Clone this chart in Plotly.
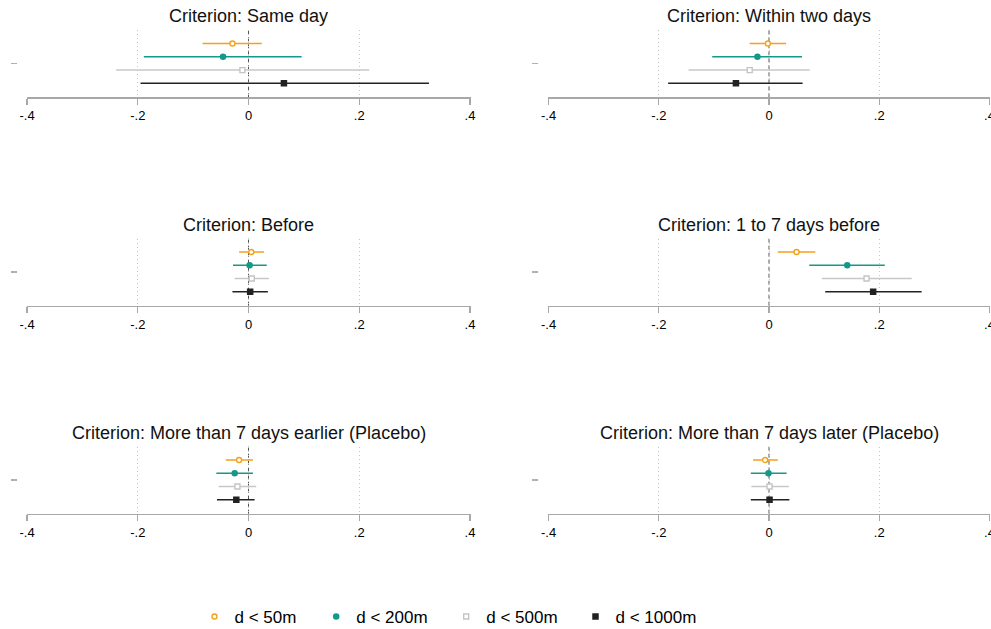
import plotly.graph_objects as go

# ---- data ----
panel_titles = [
    "Criterion: Same day",
    "Criterion: Within two days",
    "Criterion: Before",
    "Criterion: 1 to 7 days before",
    "Criterion: More than 7 days earlier (Placebo)",
    "Criterion: More than 7 days later (Placebo)",
]
series_names = ["d < 50m", "d < 200m", "d < 500m", "d < 1000m"]

est_50 = [-0.029, -0.002, 0.005, 0.050, -0.017, -0.007]
lo_50 = [-0.083, -0.035, -0.017, 0.016, -0.041, -0.029]
hi_50 = [0.024, 0.031, 0.028, 0.084, 0.008, 0.016]

est_200 = [-0.046, -0.021, 0.002, 0.142, -0.025, -0.001]
lo_200 = [-0.189, -0.103, -0.028, 0.073, -0.058, -0.033]
hi_200 = [0.096, 0.060, 0.033, 0.210, 0.008, 0.032]

est_500 = [-0.011, -0.035, 0.006, 0.177, -0.020, 0.001]
lo_500 = [-0.239, -0.146, -0.025, 0.096, -0.054, -0.032]
hi_500 = [0.218, 0.074, 0.037, 0.259, 0.014, 0.036]

est_1000 = [0.064, -0.060, 0.003, 0.189, -0.022, 0.001]
lo_1000 = [-0.195, -0.183, -0.029, 0.102, -0.057, -0.033]
hi_1000 = [0.326, 0.061, 0.035, 0.277, 0.011, 0.037]

x_tickvals = [-0.4, -0.2, 0, 0.2, 0.4]
x_ticktext = ["-.4", "-.2", "0", ".2", ".4"]

estimates = [est_50, est_200, est_500, est_1000]
lowers = [lo_50, lo_200, lo_500, lo_1000]
uppers = [hi_50, hi_200, hi_500, hi_1000]

# ---- styles ----
FONT = "Liberation Sans, Arial, Helvetica, sans-serif"
W, H = 991, 629
styles = [
    dict(color="#F5A01A", symbol="circle", fill="white", size=5, lw=1.4),
    dict(color="#12998A", symbol="circle", fill="#12998A", size=6.5, lw=0),
    dict(color="#C4C4C4", symbol="square", fill="white", size=5, lw=1.4),
    dict(color="#222222", symbol="square", fill="#222222", size=6.5, lw=0),
]
line_colors = ["#F5A01A", "#12998A", "#C8C8C8", "#222222"]
series_row = [1, 2, 3, 4]  # vertical offset of each series inside a panel

# pixel layout
col_x = [(26.5, 470.5), (548.0, 990.0)]
x_range = [-0.401, 0.401]
row_bottom = [97.3, 305.7, 513.7]
panel_h = 67.0
ytick_pos = [16.7, 537.7]
legend_marker_x = [219.5, 341.2, 471.2, 600.5]
legend_y = 617

fig = go.Figure()
layout = dict(
    width=W, height=H, margin=dict(l=0, r=0, t=0, b=0, autoexpand=False),
    paper_bgcolor="white", plot_bgcolor="white",
    font=dict(family=FONT, color="black"),
    showlegend=True,
)
legend_keys = ["legend", "legend2", "legend3", "legend4"]
for k, key in enumerate(legend_keys):
    layout[key] = dict(orientation="h", x=(legend_marker_x[k] - 25) / W, xanchor="left",
                       y=1 - legend_y / H, yanchor="middle",
                       font=dict(size=17, family=FONT, color="black"),
                       bgcolor="rgba(0,0,0,0)", itemclick=False, itemdoubleclick=False)

annotations = []
shapes = []

for p, title in enumerate(panel_titles):
    r, c = divmod(p, 2)
    idx = p + 1
    xa = "x" if idx == 1 else f"x{idx}"
    ya = "y" if idx == 1 else f"y{idx}"
    x0, x1 = col_x[c]
    yb = row_bottom[r]
    yt = yb - panel_h
    layout["xaxis" if idx == 1 else f"xaxis{idx}"] = dict(
        domain=[x0 / W, x1 / W], range=x_range, anchor=ya,
        tickvals=x_tickvals, ticktext=x_ticktext, ticklabeloverflow="allow",
        showline=True, linecolor="#A8A8A8", linewidth=1.3,
        ticks="outside", ticklen=6, tickcolor="#A8A8A8", tickwidth=1.3,
        showgrid=True, gridcolor="#C4C4C4", griddash="1px,3px", gridwidth=1,
        zeroline=False, tickfont=dict(size=13, family=FONT, color="black"),
        fixedrange=True, automargin=False,
    )
    layout["yaxis" if idx == 1 else f"yaxis{idx}"] = dict(
        domain=[1 - yb / H, 1 - yt / H], range=[5.05, 0], anchor="free",
        position=ytick_pos[c] / W,
        tickvals=[2.5], ticktext=[""], ticks="outside", ticklen=6,
        tickcolor="#B0B0B0", tickwidth=1.3,
        showline=False, showgrid=False, zeroline=False, fixedrange=True, automargin=False,
    )
    # zero reference line
    shapes.append(dict(type="line", xref=xa, yref=f"{ya} domain", x0=0, x1=0, y0=0, y1=1,
                       line=dict(color="#555555", width=1, dash="4px,3px"), layer="below"))
    annotations.append(dict(text=title, xref="paper", yref="paper",
                            x=((x0 + x1) / 2) / W, y=1 - (yb - 69) / H,
                            xanchor="center", yanchor="bottom", showarrow=False,
                            font=dict(size=18, family=FONT, color="#111111")))
    for s in range(4):
        st = styles[s]
        e = estimates[s][p]
        fig.add_trace(go.Scatter(
            x=[e], y=[series_row[s]], xaxis=xa, yaxis=ya, mode="markers",
            name=series_names[s], legend=legend_keys[s], showlegend=(p == 0),
            marker=dict(symbol=st["symbol"], size=st["size"], color=st["fill"],
                        line=dict(color=st["color"], width=st["lw"])),
            error_x=dict(type="data", symmetric=False,
                         array=[uppers[s][p] - e], arrayminus=[e - lowers[s][p]],
                         color=line_colors[s], thickness=1.5, width=0),
            hoverinfo="skip",
        ))

layout["annotations"] = annotations
layout["shapes"] = shapes
fig.update_layout(**layout)
fig.write_html("out.html", config={"displayModeBar": False, "staticPlot": True},
               post_script="document.body.style.margin='0';document.body.style.overflow='hidden';")
